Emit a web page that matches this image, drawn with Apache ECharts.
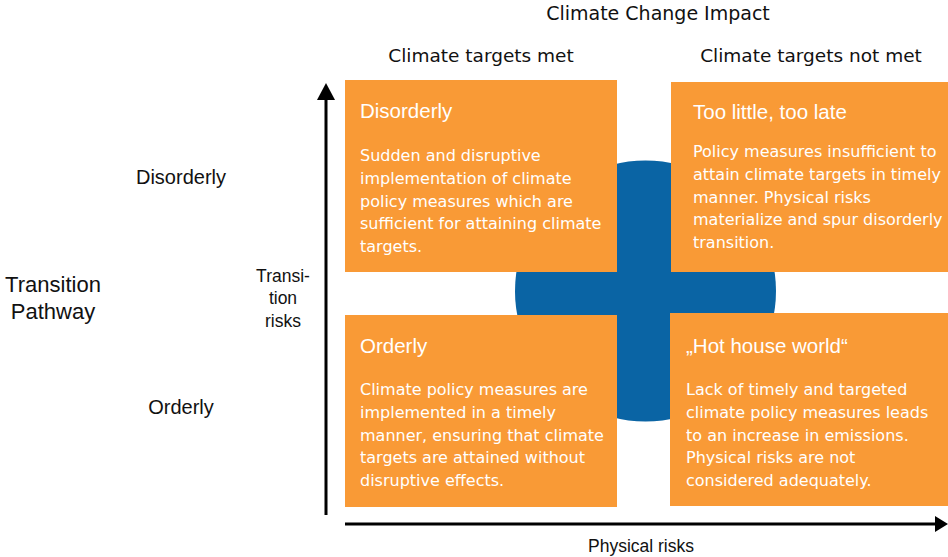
<!DOCTYPE html>
<html lang="en">
<head>
    <meta charset="UTF-8">
    <title>Climate Change Impact</title>
    <script src="https://cdn.jsdelivr.net/npm/echarts@6/dist/echarts.min.js"></script>
    <style>
        html, body { margin: 0; padding: 0; background: #fff; }
        #main { width: 948px; height: 557px; }
    </style>
</head>
<body>
<div id="main"></div>
<script>
    // categories and texts
    const columns = ['Climate targets met', 'Climate targets not met'];
    const rows = ['Disorderly', 'Orderly'];
    const quadTitles = ['Disorderly', 'Too little, too late', 'Orderly', '\u201EHot house world\u201C'];
    const quadTexts = [
        'Sudden and disruptive\nimplementation of climate\npolicy measures which are\nsufficient for attaining climate\ntargets.',
        'Policy measures insufficient to\nattain climate targets in timely\nmanner. Physical risks\nmaterialize and spur disorderly\ntransition.',
        'Climate policy measures are\nimplemented in a timely\nmanner, ensuring that climate\ntargets are attained without\ndisruptive effects.',
        'Lack of timely and targeted\nclimate policy measures leads\nto an increase in emissions.\nPhysical risks are not\nconsidered adequately.'
    ];
    const quadCol = [0, 1, 0, 1];
    const quadRow = [0, 0, 1, 1];
    const axisTitles = ['Climate Change Impact', 'Transition\nPathway'];
    const arrowNames = ['Transi-\ntion\nrisks', 'Physical risks'];

    // layout (pixel units of the hidden axes)
    const layout = {
        box: [[345, 80, 617, 272], [671, 82, 952, 272], [345, 315, 617, 507], [670, 313, 952, 506]],
        pad: [15, 22, 15, 16],
        titleY: [30, 29, 30, 32],
        bodyY: [64, 58, 63, 65],
        colX: [481, 811],
        colY: 55,
        rowX: 181,
        rowY: [177, 407],
        circle: [645.5, 291, 130.5],
        vArrow: [326, 515, 83],
        hArrow: [345, 948, 524]
    };
    const orange = '#F99A36';
    const blue = '#0A64A4';
    const font = 'Liberation Sans, Arial, sans-serif';
    const wide = 'DejaVu Sans, sans-serif';

    const chart = echarts.init(document.getElementById('main'), null, {renderer: 'svg'});

    chart.setOption({
        backgroundColor: '#fff',
        animation: false,
        grid: {left: 0, right: 0, top: 0, bottom: 0},
        xAxis: {type: 'value', min: 0, max: 948, show: false},
        yAxis: {type: 'value', min: 0, max: 557, inverse: true, show: false},
        series: [
            {
                // blue disc behind the quadrants
                type: 'custom',
                silent: true,
                data: [[0]],
                renderItem: function (params, api) {
                    const c = layout.circle;
                    const p = api.coord([c[0], c[1]]);
                    const e = api.coord([c[0] + c[2], c[1]]);
                    return {
                        type: 'circle',
                        shape: {cx: p[0], cy: p[1], r: e[0] - p[0]},
                        style: {fill: blue}
                    };
                }
            },
            {
                // quadrant boxes
                type: 'custom',
                silent: true,
                data: quadTitles.map((t, i) => [i, quadCol[i], quadRow[i]]),
                renderItem: function (params, api) {
                    const i = api.value(0);
                    const r = layout.box[i];
                    const p0 = api.coord([r[0], r[1]]);
                    const p1 = api.coord([r[2], r[3]]);
                    return {
                        type: 'group',
                        children: [
                            {
                                type: 'rect',
                                shape: {x: p0[0], y: p0[1], width: p1[0] - p0[0], height: p1[1] - p0[1]},
                                style: {fill: orange}
                            },
                            {
                                type: 'text',
                                x: p0[0] + layout.pad[i],
                                y: p0[1] + layout.titleY[i],
                                style: {
                                    text: quadTitles[i], fill: '#fff', fontSize: 20.5, fontFamily: font,
                                    verticalAlign: 'middle'
                                }
                            },
                            {
                                type: 'text',
                                x: p0[0] + layout.pad[i],
                                y: p0[1] + layout.bodyY[i],
                                style: {
                                    text: quadTexts[i], fill: '#fff', fontSize: 16, fontFamily: wide,
                                    lineHeight: 22.8, verticalAlign: 'top'
                                }
                            }
                        ]
                    };
                }
            },
            {
                // axis arrows
                type: 'custom',
                silent: true,
                data: [[0], [1]],
                renderItem: function (params, api) {
                    const k = api.value(0);
                    let a, b, head;
                    if (k === 0) {
                        const v = layout.vArrow;
                        a = api.coord([v[0], v[1]]);
                        b = api.coord([v[0], v[2]]);
                        head = [[b[0], b[1]], [b[0] - 9, b[1] + 17], [b[0] + 9, b[1] + 17]];
                        b = [b[0], b[1] + 12];
                    } else {
                        const h = layout.hArrow;
                        a = api.coord([h[0], h[2]]);
                        b = api.coord([h[1], h[2]]);
                        head = [[b[0], b[1]], [b[0] - 13, b[1] - 8], [b[0] - 13, b[1] + 8]];
                        b = [b[0] - 8, b[1]];
                    }
                    return {
                        type: 'group',
                        children: [
                            {
                                type: 'line',
                                shape: {x1: a[0], y1: a[1], x2: b[0], y2: b[1]},
                                style: {stroke: '#000', lineWidth: 3}
                            },
                            {
                                type: 'polygon',
                                shape: {points: head},
                                style: {fill: '#000'}
                            }
                        ]
                    };
                }
            },
            {
                // column / row headers
                type: 'custom',
                silent: true,
                data: columns.map((c, i) => [0, i]).concat(rows.map((r, i) => [1, i])),
                renderItem: function (params, api) {
                    const kind = api.value(0);
                    const i = api.value(1);
                    const p = kind === 0
                        ? api.coord([layout.colX[i], layout.colY])
                        : api.coord([layout.rowX, layout.rowY[i]]);
                    return {
                        type: 'text',
                        x: p[0],
                        y: p[1],
                        style: {
                            text: kind === 0 ? columns[i] : rows[i],
                            fill: '#111',
                            fontSize: kind === 0 ? 18.5 : 20,
                            fontFamily: kind === 0 ? wide : font,
                            align: 'center', verticalAlign: 'middle'
                        }
                    };
                }
            }
        ],
        graphic: [
            {
                type: 'text', x: 658, y: 13,
                style: {text: axisTitles[0], fill: '#111', fontSize: 19, fontFamily: wide, align: 'center', verticalAlign: 'middle'}
            },
            {
                type: 'text', x: 53, y: 298,
                style: {text: axisTitles[1], fill: '#111', fontSize: 22, fontFamily: font, align: 'center', verticalAlign: 'middle', lineHeight: 27}
            },
            {
                type: 'text', x: 283, y: 298,
                style: {text: arrowNames[0], fill: '#111', fontSize: 17.5, fontFamily: font, align: 'center', verticalAlign: 'middle', lineHeight: 22.5}
            },
            {
                type: 'text', x: 641, y: 546,
                style: {text: arrowNames[1], fill: '#111', fontSize: 17.5, fontFamily: font, align: 'center', verticalAlign: 'middle'}
            }
        ]
    });
</script>
</body>
</html>
